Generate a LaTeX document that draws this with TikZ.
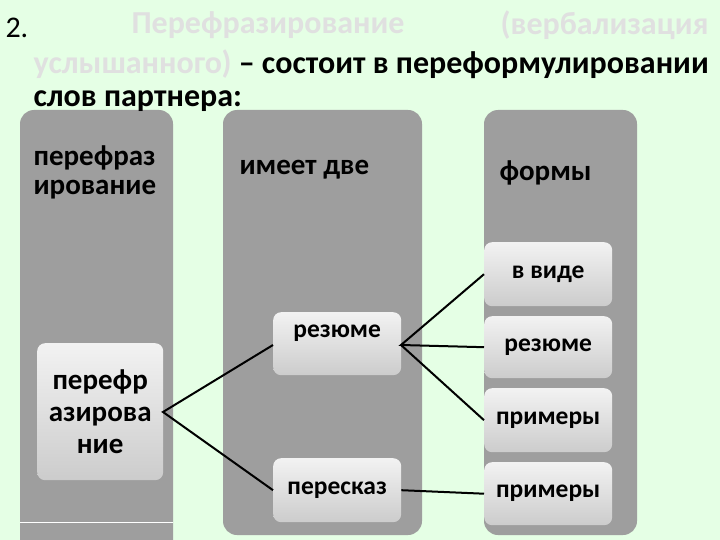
\documentclass[tikz,border=0pt]{standalone}
\usepackage{fontspec}
\setmainfont{Carlito}
\begin{document}
\begin{tikzpicture}[x=1pt,y=-1pt,
 col/.style={fill=black!38,rounded corners=14pt},
 ibox/.style={draw=none,rounded corners=8pt,top color=white!95!black,bottom color=black!20,anchor=north west,align=center,font=\bfseries\fontsize{25.5}{27}\selectfont},
 lbl/.style={anchor=north west,align=left,font=\bfseries\fontsize{29}{29}\selectfont},
 ttl/.style={font=\bfseries\fontsize{32}{34}\selectfont},
 con/.style={line width=2pt}]
\fill[green!10!white] (0,0) rectangle (720,540);
\useasboundingbox (0,0) rectangle (720,540);
\fill[col] (20,110) rectangle (173,560);
\fill[col] (223,110) rectangle (422,535);
\fill[col] (484,110) rectangle (637,535);
\draw[white,line width=1pt] (20,522) -- (173,522);
\node[anchor=west,font=\fontsize{30}{32}\selectfont] (n2) at (2,28) {2.};
\node[anchor=west,ttl,text=white!88!black] (t1) at (128,25) {Перефразирование};
\node[anchor=east,ttl,text=white!88!black] (t2) at (712,25) {(вербализация};
\node[anchor=west,ttl] (t3) at (30,64) {\textcolor{white!88!black}{услышанного)} – состоит в переформулировании};
\node[anchor=west,ttl] (t4) at (30,101) {слов партнера:};
\node[lbl] (l1) at (30,142) {перефраз\\ирование};
\node[lbl] (l2) at (236,157) {имеет две};
\node[lbl] (l3) at (496,157) {формы};
\node[ibox,minimum width=126pt,minimum height=137pt,font=\bfseries\fontsize{29}{32}\selectfont] (p) at (37,343) {перефр\\азирова\\ние};
\node[ibox,minimum width=128pt,minimum height=63pt,text depth=26pt] (r) at (273,312) {резюме};
\node[ibox,minimum width=128pt,minimum height=64pt] (s) at (273,458) {пересказ};
\node[ibox,minimum width=128pt,minimum height=64pt] (v) at (484,242) {в виде};
\node[ibox,minimum width=128pt,minimum height=62pt] (r2) at (484,316) {резюме};
\node[ibox,minimum width=128pt,minimum height=64pt] (pr1) at (484,388) {примеры};
\node[ibox,minimum width=128pt,minimum height=63pt] (pr2) at (484,462) {примеры};
\coordinate (pe) at (163,412);
\coordinate (re) at (401,345);
\draw[con] (r.west |- 0,345) -- (pe) -- (s.west);
\draw[con] (v.west) -- (re) -- (r2.west);
\draw[con] (re) -- (pr1.west);
\draw[con] (s.east) -- (pr2.west);
\end{tikzpicture}
\end{document}
